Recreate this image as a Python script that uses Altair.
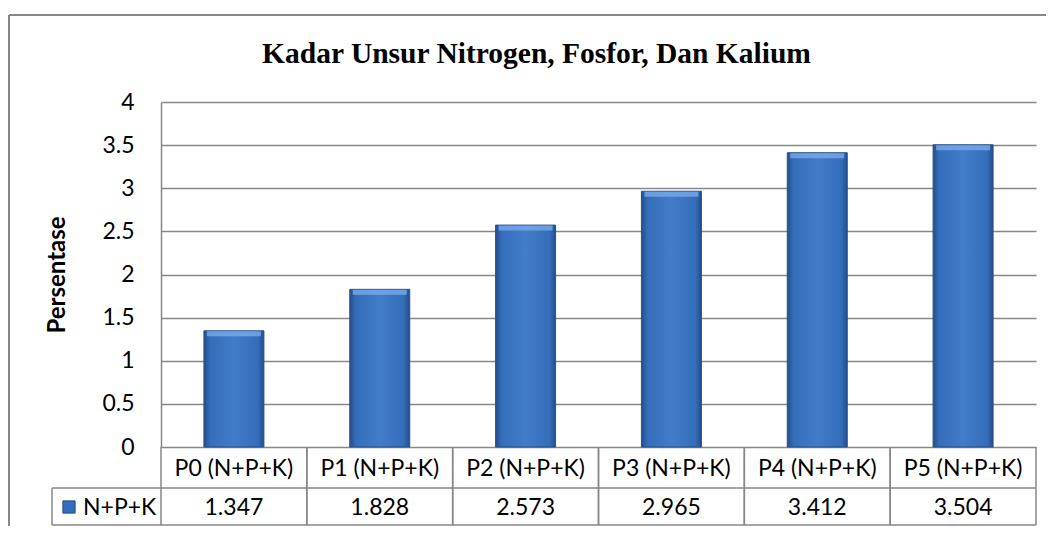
import altair as alt
import pandas as pd

categories = ["P0 (N+P+K)", "P1 (N+P+K)", "P2 (N+P+K)", "P3 (N+P+K)", "P4 (N+P+K)", "P5 (N+P+K)"]
values = [1.347, 1.828, 2.573, 2.965, 3.412, 3.504]
series_name = "N+P+K"
y_ticks = [0, 0.5, 1, 1.5, 2, 2.5, 3, 3.5, 4]
title_text = "Kadar Unsur Nitrogen, Fosfor, Dan Kalium"
y_title = "Persentase"

df = pd.DataFrame({"cat": categories, "val": values,
                   "label": [f"{v:.3f}" for v in values]})
one = pd.DataFrame({"k": [0], "name": [series_name], "title": [title_text]})

W, H = 875, 345
GRID = "#878787"
FONT = "Lato"
FS = 23

xscale = alt.Scale(domain=categories, paddingInner=0, paddingOuter=0)
yscale = alt.Scale(domain=[0, 4], nice=False)

x_axis = alt.Axis(title=None, orient="bottom", domain=False, ticks=False, labelAngle=0,
                  labelFont=FONT, labelFontSize=FS, labelColor="black",
                  labelPadding=21, labelBaseline="middle")
y_axis = alt.Axis(values=y_ticks, format="~g", title=y_title, grid=True, gridColor=GRID,
                  gridWidth=1.5, domain=True, domainColor=GRID, domainWidth=1.5, ticks=False,
                  labelFont=FONT, labelFontSize=FS, labelPadding=27, labelColor="black",
                  titleFont=FONT, titleFontSize=24, titleFontWeight="bold", titleColor="black",
                  titleX=-104, titleY=H / 2, titleAngle=-90, titleAlign="center",
                  titleBaseline="middle")


def X(**kw):
    return alt.X("cat:N", scale=xscale, sort=categories, axis=x_axis, **kw)


def Y():
    return alt.Y("val:Q", scale=yscale, axis=y_axis)


bar_fill = alt.LinearGradient(
    gradient="linear", x1=0, x2=1, y1=0, y2=0,
    stops=[
        alt.GradientStop(color="#234e8a", offset=0),
        alt.GradientStop(color="#346db9", offset=0.1),
        alt.GradientStop(color="#427dca", offset=0.5),
        alt.GradientStop(color="#346db9", offset=0.9),
        alt.GradientStop(color="#234e8a", offset=1),
    ],
)

bars = alt.Chart(df).mark_bar(size=60, color=bar_fill, stroke="#2a5288", strokeWidth=1).encode(
    x=X(), y=Y())

bevel = alt.Chart(df).mark_tick(thickness=5, size=54, color="#78aaeb", yOffset=3, opacity=0.8).encode(
    x=X(), y=Y())

col_left = alt.Chart(df).mark_rule(color=GRID, strokeWidth=1.5).encode(
    x=X(bandPosition=0), y=alt.value(H), y2=alt.value(423))
col_right = alt.Chart(df).mark_rule(color=GRID, strokeWidth=1.5).encode(
    x=X(bandPosition=1), y=alt.value(H), y2=alt.value(423))
row_mid = alt.Chart(one).mark_rule(color=GRID, strokeWidth=1.5).encode(
    x=alt.value(-109), x2=alt.value(W), y=alt.value(386))
row_bot = alt.Chart(one).mark_rule(color=GRID, strokeWidth=1.5).encode(
    x=alt.value(-109), x2=alt.value(W), y=alt.value(423))
leg_left = alt.Chart(one).mark_rule(color=GRID, strokeWidth=1.5).encode(
    x=alt.value(-109), y=alt.value(386), y2=alt.value(423))

border_top = alt.Chart(one).mark_rule(color=GRID, strokeWidth=2).encode(
    x=alt.value(-152), x2=alt.value(885), y=alt.value(-87))
border_left = alt.Chart(one).mark_rule(color=GRID, strokeWidth=2).encode(
    x=alt.value(-152), y=alt.value(-87), y2=alt.value(430))

vals_text = alt.Chart(df).mark_text(font=FONT, fontSize=FS, baseline="middle", color="black").encode(
    x=X(), y=alt.value(406), text="label:N")

leg_icon = alt.Chart(one).mark_point(shape="square", filled=True, size=150, color="#346db9",
                                     stroke="#234e8a", strokeWidth=1, opacity=1).encode(
    x=alt.value(-92), y=alt.value(405))
leg_text = alt.Chart(one).mark_text(font=FONT, fontSize=FS, align="left", baseline="middle",
                                    color="black").encode(
    x=alt.value(-78), y=alt.value(406), text="name:N")

title_mark = alt.Chart(one).mark_text(font="Liberation Serif", fontSize=29.5, fontWeight="bold",
                                      align="center", baseline="alphabetic", color="black").encode(
    x=alt.value(W / 2 - 62), y=alt.value(-39), text="title:N")

chart = alt.layer(
    bars, bevel, col_left, col_right, row_mid, row_bot, leg_left,
    border_top, border_left, vals_text, leg_icon, leg_text, title_mark,
).properties(
    width=W, height=H,
    autosize="none",
    padding={"left": 153, "top": 94, "right": 10, "bottom": 79},
).configure_view(stroke=None)

chart.save("out.html", embed_options={"renderer": "svg", "actions": False})
